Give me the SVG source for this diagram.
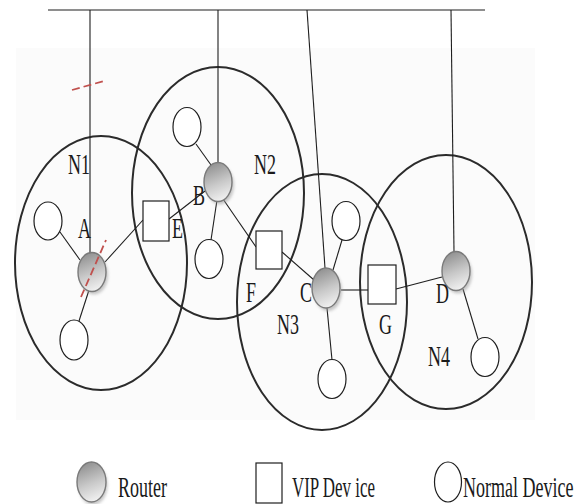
<svg xmlns="http://www.w3.org/2000/svg" width="585" height="504" viewBox="0 0 585 504">
  <style>
    .net { fill: none; stroke: #2b2b2b; stroke-width: 2; }
    .wire { fill: none; stroke: #1e1e1e; stroke-width: 1.1; }
    .cut { fill: none; stroke: #c0504d; stroke-width: 1.8; stroke-dasharray: 8 4; }
    .router { fill: url(#routerFill); stroke: #7a7a7a; stroke-width: 1.4; }
    .shadow { fill: #9a9a9a; opacity: 0.55; filter: url(#soft); }
    .vip { fill: #ffffff; stroke: #1e1e1e; stroke-width: 1.2; }
    .dev { fill: #ffffff; stroke: #1e1e1e; stroke-width: 1.2; }
    .lbl { font-family: "Liberation Serif", "Times New Roman", serif; font-size: 18px; fill: #1a1a1a; }
  </style>
  <defs>
    <linearGradient id="routerFill" x1="0.3" y1="0" x2="0.6" y2="1">
      <stop offset="0" stop-color="#8e8e8e"/>
      <stop offset="0.55" stop-color="#c9c9c9"/>
      <stop offset="1" stop-color="#f2f2f2"/>
    </linearGradient>
    <filter id="soft" x="-50%" y="-50%" width="200%" height="200%">
      <feGaussianBlur stdDeviation="1.6"/>
    </filter>
  </defs>

  <rect width="585" height="504" fill="#ffffff"/>
  <rect x="16" y="48" width="519" height="372" fill="#fbfbfb"/>

  <!-- network coverage areas -->
  <g id="areas">
    <ellipse id="N1-area" class="net" cx="101" cy="263" rx="86" ry="127"/>
    <ellipse id="N2-area" class="net" cx="218" cy="193" rx="86" ry="126"/>
    <ellipse id="N3-area" class="net" cx="322" cy="302" rx="85" ry="128"/>
    <ellipse id="N4-area" class="net" cx="446" cy="282" rx="86" ry="127"/>
  </g>

  <!-- backbone bus and links -->
  <g id="connectors">
    <line class="wire" x1="48" y1="10" x2="485" y2="10" stroke-width="1.5"/>
    <line class="wire" x1="90" y1="10" x2="90" y2="253"/>
    <line class="wire" x1="218" y1="10" x2="218" y2="163"/>
    <line class="wire" x1="307" y1="10" x2="325" y2="268"/>
    <line class="wire" x1="451" y1="10" x2="454" y2="252"/>

    <line class="wire" x1="60" y1="232" x2="80" y2="260"/>
    <line class="wire" x1="89" y1="290" x2="79" y2="321"/>
    <line class="wire" x1="105" y1="262" x2="143" y2="220"/>
    <line class="wire" x1="169" y1="219" x2="205" y2="191"/>

    <line class="wire" x1="196" y1="144" x2="211" y2="165"/>
    <line class="wire" x1="217" y1="200" x2="211" y2="240"/>
    <line class="wire" x1="223" y1="199" x2="256" y2="247"/>
    <line class="wire" x1="282" y1="252" x2="314" y2="280"/>

    <line class="wire" x1="333" y1="270" x2="342" y2="240"/>
    <line class="wire" x1="327" y1="308" x2="332" y2="360"/>
    <line class="wire" x1="341" y1="290" x2="368" y2="290"/>
    <line class="wire" x1="396" y1="289" x2="442" y2="277"/>
    <line class="wire" x1="463" y1="289" x2="478" y2="339"/>
  </g>

  <!-- routers -->
  <g id="A">
    <ellipse class="shadow" cx="94" cy="275" rx="14" ry="19.5"/>
    <ellipse class="router" cx="92" cy="272" rx="14" ry="19.5"/>
  </g>
  <g id="B">
    <ellipse class="shadow" cx="220" cy="185" rx="14" ry="19.5"/>
    <ellipse class="router" cx="218" cy="182" rx="14" ry="19.5"/>
  </g>
  <g id="C">
    <ellipse class="shadow" cx="328" cy="291" rx="14" ry="20"/>
    <ellipse class="router" cx="326" cy="288" rx="14" ry="20"/>
  </g>
  <g id="D">
    <ellipse class="shadow" cx="458" cy="274" rx="14" ry="19.5"/>
    <ellipse class="router" cx="456" cy="271" rx="14" ry="19.5"/>
  </g>

  <!-- failed links, marked over the router -->
  <g id="breaks">
    <line class="cut" x1="72" y1="90" x2="104" y2="81"/>
    <line class="cut" x1="81" y1="297" x2="106" y2="240" stroke-dasharray="10 5"/>
  </g>

  <!-- VIP devices -->
  <g id="E"><rect class="vip" x="143" y="201" width="26" height="40"/></g>
  <g id="F"><rect class="vip" x="256" y="231" width="26" height="38"/></g>
  <g id="G"><rect class="vip" x="368" y="265" width="28" height="39"/></g>

  <!-- normal devices -->
  <g id="dev-n1a"><ellipse class="dev" cx="48" cy="221" rx="14" ry="19"/></g>
  <g id="dev-n1b"><ellipse class="dev" cx="74" cy="340" rx="14" ry="20"/></g>
  <g id="dev-n2a"><ellipse class="dev" cx="187" cy="127" rx="14" ry="19.5"/></g>
  <g id="dev-n2b"><ellipse class="dev" cx="209" cy="259" rx="14" ry="19.5"/></g>
  <g id="dev-n3a"><ellipse class="dev" cx="346" cy="221" rx="14" ry="19.5"/></g>
  <g id="dev-n3b"><ellipse class="dev" cx="332" cy="379" rx="14" ry="19.5"/></g>
  <g id="dev-n4"><ellipse class="dev" cx="485" cy="357" rx="14" ry="19.5"/></g>

  <!-- labels (tall narrow serif) -->
  <g id="labels" class="lbl">
    <text transform="translate(68,174) scale(1,1.65)">N1</text>
    <text transform="translate(254,174) scale(1,1.65)">N2</text>
    <text transform="translate(277,334) scale(1,1.65)">N3</text>
    <text transform="translate(428,366) scale(1,1.65)">N4</text>
    <text transform="translate(78,238) scale(1,1.65)">A</text>
    <text transform="translate(193,205) scale(1,1.65)">B</text>
    <text transform="translate(300,302) scale(1,1.65)">C</text>
    <text transform="translate(436,303) scale(1,1.65)">D</text>
    <text transform="translate(172,238) scale(1,1.65)">E</text>
    <text transform="translate(246,302) scale(1,1.65)">F</text>
    <text transform="translate(379,334) scale(1,1.65)">G</text>
  </g>

  <!-- legend -->
  <g id="legend">
    <g id="legend-router">
      <ellipse class="shadow" cx="93" cy="485" rx="14.5" ry="20"/>
      <ellipse class="router" cx="91.5" cy="482" rx="14.5" ry="20"/>
      <text class="lbl" transform="translate(118,497) scale(1,1.65)">Router</text>
    </g>
    <g id="legend-vip">
      <rect class="vip" x="256" y="463" width="26" height="40"/>
      <text class="lbl" transform="translate(292,497) scale(1,1.65)" textLength="83" lengthAdjust="spacingAndGlyphs">VIP Dev ice</text>
    </g>
    <g id="legend-normal">
      <ellipse class="dev" cx="448" cy="482" rx="13.5" ry="20"/>
      <text class="lbl" transform="translate(463,497) scale(1,1.65)">Normal Device</text>
    </g>
  </g>
</svg>
